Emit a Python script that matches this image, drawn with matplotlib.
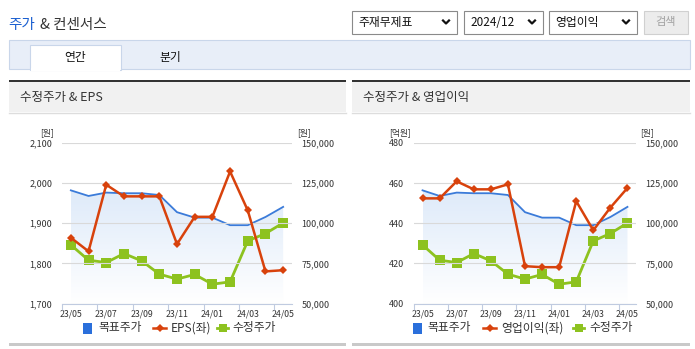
import numpy as np
import matplotlib.pyplot as plt
from matplotlib.patches import Rectangle

plt.rcParams['font.family'] = ['Noto Sans CJK KR', 'DejaVu Sans']

# 데이터
months = ['23/05', '23/06', '23/07', '23/08', '23/09', '23/10', '23/11',
          '23/12', '24/01', '24/02', '24/03', '24/04', '24/05']
target_price = [120500, 117000, 119100, 118700, 118700, 117600, 106900,
                103500, 103500, 98800, 98800, 103900, 110200]
adj_price = [86500, 77000, 75500, 81100, 76600, 68300, 65200,
             68100, 62000, 63500, 89000, 93600, 100200]
eps = [1864, 1830, 1996, 1967, 1967, 1967, 1848, 1916, 1916, 2029, 1932, 1780, 1783]
op_income = [452.4, 452.4, 460.9, 456.9, 456.9, 459.4, 418.6, 418.1, 418.1,
             451.0, 436.5, 447.8, 457.6]

W, H = 695, 349
BLUE = '#3b7bd9'
RED = '#d8420c'
GREEN = '#8dc21f'
TXT = '#333333'

fig = plt.figure(figsize=(W / 100, H / 100), dpi=100)


def rect(x0, y0, x1, y1):
    return [x0 / W, 1 - y1 / H, (x1 - x0) / W, (y1 - y0) / H]


# 배경 (픽셀 좌표)
bg = fig.add_axes([0, 0, 1, 1])
bg.set_xlim(0, W)
bg.set_ylim(H, 0)
bg.axis('off')

# 제목
bg.text(8, 25.5, '주가', color='#1a5fd0', fontsize=10.5, va='center', ha='left')
bg.text(40, 25.5, '& 컨센서스', color=TXT, fontsize=10.5, va='center', ha='left')

# 드롭다운
boxes = [(352, 457, '주재무제표'), (464, 543, '2024/12'), (549, 637, '영업이익')]
for x0, x1, label in boxes:
    bg.add_patch(Rectangle((x0, 10.5), x1 - x0, 23, facecolor='white',
                           edgecolor='#8a8a8a', lw=0.8))
    bg.text(x0 + 6, 22.5, label, fontsize=8.5, color='#111', va='center')
    cx = x1 - 11
    bg.plot([cx - 3, cx, cx + 3], [20.5, 23.5, 20.5], color='#111', lw=1.6)
bg.add_patch(Rectangle((644, 10.5), 44, 23, facecolor='#ececec',
                       edgecolor='#d0d0d0', lw=0.8))
bg.text(666, 22.5, '검색', fontsize=8, color='#a0a0a0', va='center', ha='center')

# 탭
bg.add_patch(Rectangle((9, 40), 681, 29, facecolor='#e8eef8',
                       edgecolor='#c9d6ea', lw=0.8))
bg.add_patch(Rectangle((30, 45), 91, 25, facecolor='white',
                       edgecolor='#c9d6ea', lw=0.8))
bg.add_patch(Rectangle((30.6, 68), 89.8, 3, facecolor='white', edgecolor='none'))
bg.text(75.5, 57.5, '연간', fontsize=8.5, color='#111', va='center', ha='center')
bg.text(170, 57.5, '분기', fontsize=8.5, color='#111', va='center', ha='center')

# 패널 헤더
for x0, x1, title in [(9, 346, '수정주가 & EPS'), (352, 690, '수정주가 & 영업이익')]:
    bg.add_patch(Rectangle((x0, 82), x1 - x0, 30, facecolor='#f1f1f1', edgecolor='none'))
    bg.add_patch(Rectangle((x0, 80), x1 - x0, 2.2, facecolor='#333333', edgecolor='none'))
    bg.plot([x0, x1], [112.5, 112.5], color='#dddddd', lw=1)
    bg.text(x0 + 11, 98, title, fontsize=9, color='#333', va='center', ha='left')
    bg.add_patch(Rectangle((x0, 342.5), x1 - x0, 3, facecolor='#c9c9c9', edgecolor='none'))


def draw_chart(px, left_vals, left_lim, left_ticks, left_fmt, left_unit):
    ax = fig.add_axes(rect(*px))
    ax2 = ax.twinx()
    x = np.arange(len(months))

    # 목표주가 영역 (그라데이션)
    ax2.set_ylim(50000, 150000)
    ax2.set_xlim(-0.5, 12.5)
    poly = ax2.fill_between(x, target_price, 50000, facecolor='none', edgecolor='none')
    grad = np.linspace(0, 1, 256).reshape(-1, 1)
    cmap = plt.matplotlib.colors.LinearSegmentedColormap.from_list(
        'g', ['#ffffff', '#dce9f9'])
    img = ax2.imshow(grad, cmap=cmap, aspect='auto', origin='lower',
                     extent=[0, 12, 50000, 125000], zorder=1)
    img.set_clip_path(poly.get_paths()[0], transform=ax2.transData)
    ax2.plot(x, target_price, color=BLUE, lw=1.3, zorder=3)
    ax2.plot(x, adj_price, color=GREEN, lw=2, marker='s', markersize=6.5,
             markeredgewidth=0, zorder=4)
    ax2.set_ylim(50000, 150000)
    ax2.set_xlim(-0.5, 12.5)

    ax.plot(x, left_vals, color=RED, lw=1.8, marker='D', markersize=4.2,
            markeredgewidth=0, zorder=5)
    ax.set_ylim(*left_lim)
    ax.set_xlim(-0.5, 12.5)
    ax.set_zorder(ax2.get_zorder() + 1)
    ax.patch.set_visible(False)

    ax.set_yticks(left_ticks)
    ax.set_yticklabels([left_fmt(v) for v in left_ticks])
    ax.grid(axis='y', color='#d9d9d9', lw=0.8)
    ax.set_axisbelow(True)
    ax2.set_yticks([50000, 75000, 100000, 125000, 150000])
    ax2.set_yticklabels(['{:,}'.format(v) for v in [50000, 75000, 100000, 125000, 150000]])

    ax.set_xticks(x[::2])
    ax.set_xticklabels(months[::2])
    ax.set_xticks(np.arange(-0.5, 13, 2), minor=True)
    ax.tick_params(axis='x', which='major', length=0, pad=4, labelsize=6.3,
                   colors='#333')
    ax.tick_params(axis='x', which='minor', length=4, color='#c0cbe0', width=0.8)
    ax.tick_params(axis='y', length=0, pad=7, labelsize=6.5, colors='#333')
    ax2.tick_params(axis='y', length=0, pad=7, labelsize=6.5, colors='#333')

    for s in ['top', 'left', 'right']:
        ax.spines[s].set_visible(False)
        ax2.spines[s].set_visible(False)
    ax2.spines['bottom'].set_visible(False)
    ax.spines['bottom'].set_color('#c0cbe0')
    ax.spines['bottom'].set_linewidth(0.8)

    ax.text(-0.065, 1.065, left_unit, transform=ax.transAxes, fontsize=6.3,
            color='#333', ha='center', va='center')
    ax.text(1.05, 1.065, '[원]', transform=ax.transAxes, fontsize=6.3,
            color='#333', ha='center', va='center')
    return ax


draw_chart((62, 143, 292, 303.5), eps, (1700, 2100), [1700, 1800, 1900, 2000, 2100],
           lambda v: '{:,}'.format(v), '[원]')
draw_chart((414, 143, 636, 303.5), op_income, (400, 480), [400, 420, 440, 460, 480],
           lambda v: str(v), '[억원]')


# 범례
def legend(items, y=328):
    for kind, x0, tx, label in items:
        if kind == 'box':
            bg.add_patch(Rectangle((x0, y - 5.5), 9, 11, facecolor='#2a6fdb',
                                   edgecolor='none'))
        elif kind == 'red':
            bg.plot([x0, x0 + 13], [y, y], color=RED, lw=1.8)
            bg.plot([x0 + 6.5], [y], color=RED, marker='D', markersize=4,
                    markeredgewidth=0)
        else:
            bg.plot([x0, x0 + 11], [y, y], color=GREEN, lw=2)
            bg.plot([x0 + 5.5], [y], color=GREEN, marker='s', markersize=6,
                    markeredgewidth=0)
        bg.text(tx, y, label, fontsize=8.5, color='#333', va='center', ha='left')


legend([('box', 83, 98, '목표주가'), ('red', 153, 171, 'EPS(좌)'),
        ('grn', 217, 232, '수정주가')])
legend([('box', 413, 427, '목표주가'), ('red', 483, 501, '영업이익(좌)'),
        ('grn', 573, 589, '수정주가')])

plt.savefig('out.png', dpi=100)
